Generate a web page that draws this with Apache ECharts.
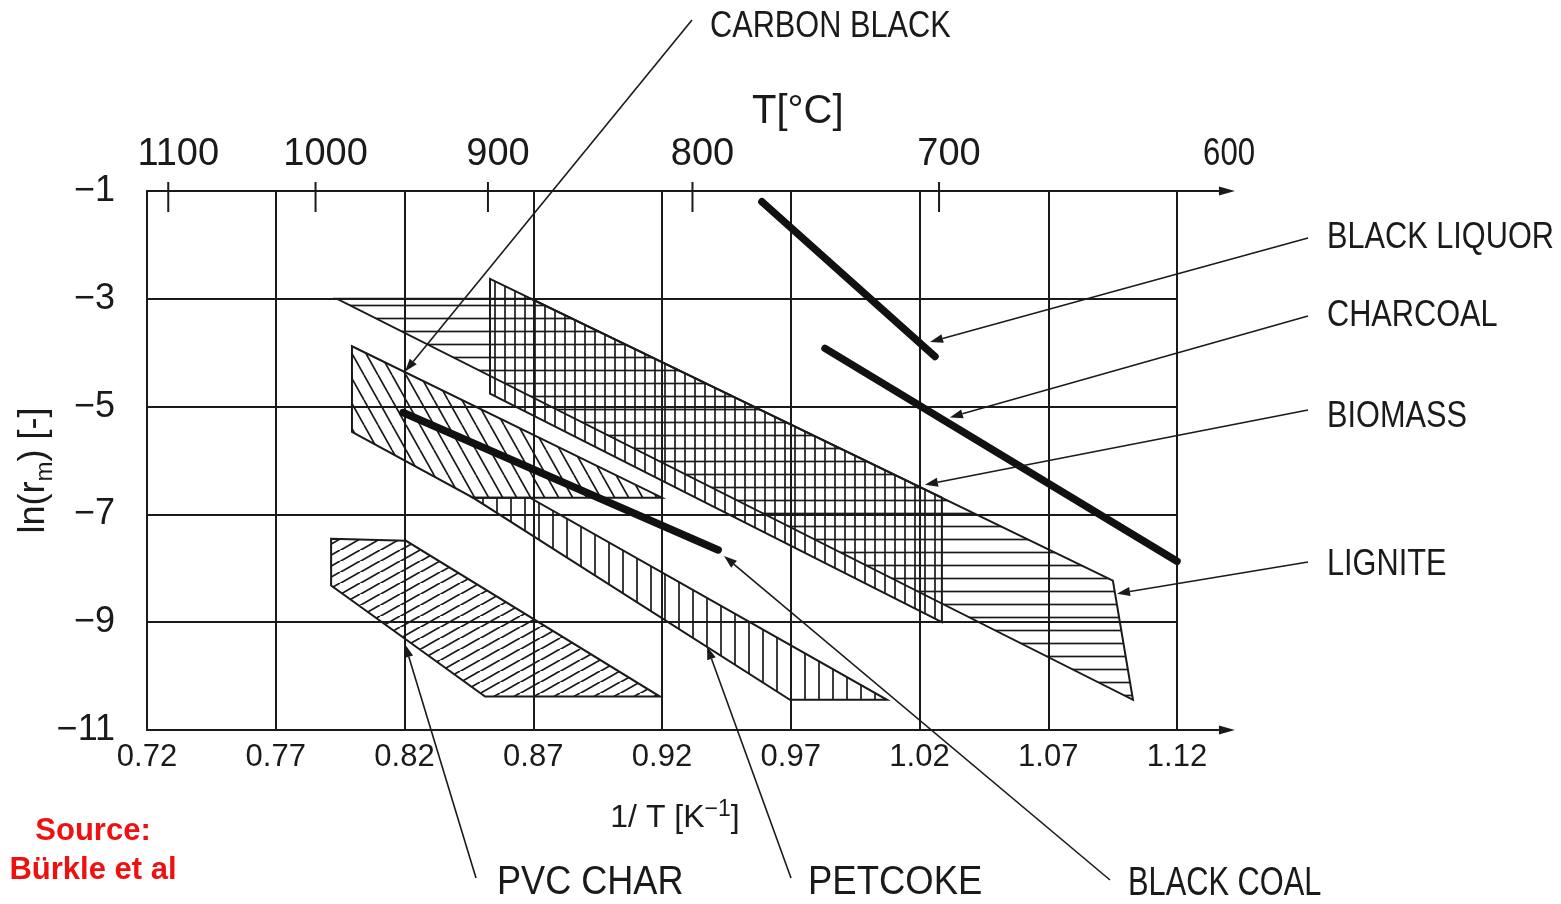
<!DOCTYPE html>
<html>
<head>
<meta charset="utf-8">
<title>Gasification reactivity ln(rm) vs 1/T</title>
<script src="https://cdn.jsdelivr.net/npm/echarts@6/dist/echarts.min.js"></script>
<style>
  html, body { margin: 0; padding: 0; background: #ffffff; }
  #chart { width: 1561px; height: 904px; }
</style>
</head>
<body>
<div id="chart"></div>
<script>
// ---------- data (x = 1000/T in K^-1, y = ln(rm)) ----------
const TEMP_TICKS = [1100, 1000, 900, 800, 700, 600];           // top axis, °C

const blackLiquor = [[0.9588, -1.20], [1.0260, -4.07]];
const charcoal    = [[0.9833, -3.92], [1.1200, -7.87]];
const blackCoal   = [[0.8194, -5.11], [0.9418, -7.66]];

const lignite     = [[0.7938, -3.00], [0.8692, -3.00], [1.0951, -8.23], [1.1029, -10.44]];
const biomass     = [[0.8532, -2.63], [1.0287, -6.69], [1.0287, -9.00], [0.8532, -4.76]];
const carbonBlack = [[0.7996, -3.88], [0.9200, -6.69], [0.8466, -6.69], [0.7996, -5.47]];
const petcoke     = [[0.8466, -6.69], [0.8687, -6.69], [1.0074, -10.44], [0.9697, -10.44]];
const pvcChar     = [[0.7915, -7.45], [0.8206, -7.49], [0.9192, -10.38], [0.8513, -10.38], [0.7915, -8.32]];

const LABELS        = ['CARBON BLACK', 'BLACK LIQUOR', 'CHARCOAL', 'BIOMASS', 'LIGNITE', 'PVC CHAR', 'PETCOKE', 'BLACK COAL'];
const LABEL_TARGETS = [[0.8202, -4.35], [1.0241, -3.80], [1.0318, -5.20], [1.0221, -6.45],
                       [1.0967, -8.47], [0.8202, -9.41], [0.9375, -9.45], [0.9441, -7.77]];

// ---------- layout & style ----------
const INK = '#1a1a1a';
const FONT = '"Liberation Sans", Arial, Helvetica, sans-serif';
const AXIS_ARROW_END = 1.1425;            // where the x-axis arrows stop
const GRID = { left: 147, top: 191, width: 1030, height: 539 };

// leader tail (px), text anchor (px, left / middle), font size and horizontal squeeze
const LABEL_LAYOUT = [
  { tail: [692, 20],   text: [710, 27],   size: 37, sx: 0.83 },
  { tail: [1308, 238], text: [1327, 238], size: 37, sx: 0.83 },
  { tail: [1308, 316], text: [1327, 316], size: 37, sx: 0.83 },
  { tail: [1308, 410], text: [1327, 417], size: 37, sx: 0.83 },
  { tail: [1308, 562], text: [1327, 565], size: 37, sx: 0.83 },
  { tail: [476, 878],  text: [497, 883],  size: 41, sx: 0.88 },
  { tail: [791, 878],  text: [808, 883],  size: 41, sx: 0.89 },
  { tail: [1110, 880], text: [1128, 884], size: 40, sx: 0.77 }
];

// ---------- hatch patterns ----------
function hatch(kind, w, h) {
  const c = document.createElement('canvas');
  c.width = w; c.height = h;
  const g = c.getContext('2d');
  g.strokeStyle = INK;
  g.lineWidth = 1.7;
  g.beginPath();
  if (kind === 'h') { g.moveTo(0, h / 2); g.lineTo(w, h / 2); }
  if (kind === 'v') { g.moveTo(w / 2, 0); g.lineTo(w / 2, h); }
  if (kind === 'back') {            // "\" lines
    for (let k = -1; k <= 1; k++) { g.moveTo(k * w, 0); g.lineTo(k * w + w, h); }
  }
  if (kind === 'fwd') {             // "/" lines
    for (let k = -1; k <= 1; k++) { g.moveTo(k * w, h); g.lineTo(k * w + w, 0); }
  }
  g.stroke();
  return { image: c, repeat: 'repeat' };
}

const PAT = {
  lignite: hatch('h', 8, 13),
  biomass: hatch('v', 10, 8),
  carbonBlack: hatch('back', 14, 25),
  petcoke: hatch('v', 14, 8),
  pvcChar: hatch('fwd', 20, 11.5)
};

function regionSeries(name, pts, pattern) {
  return {
    type: 'custom', name: name, coordinateSystem: 'cartesian2d',
    data: pts, encode: { x: 0, y: 1 }, clip: false, silent: true, z: 3,
    renderItem: function (params, api) {
      if (params.dataIndex !== 0) return null;
      const points = pts.map(function (p) { return api.coord(p); });
      return {
        type: 'polygon',
        shape: { points: points },
        style: { fill: pattern, stroke: INK, lineWidth: 2 }
      };
    }
  };
}

function thickLine(name, pts) {
  return {
    type: 'line', name: name, data: pts, symbol: 'none', silent: true, z: 5,
    lineStyle: { color: '#111', width: 7.5, cap: 'round' }
  };
}

function arrowHead(tip, from, len, half) {
  const dx = tip[0] - from[0], dy = tip[1] - from[1];
  const d = Math.sqrt(dx * dx + dy * dy) || 1;
  const ux = dx / d, uy = dy / d;
  const bx = tip[0] - ux * len, by = tip[1] - uy * len;
  return {
    base: [bx, by],
    points: [tip, [bx - uy * half, by + ux * half], [bx + uy * half, by - ux * half]]
  };
}

// squeezed text element anchored at (x, y)
function squeezedText(text, x, y, size, sx, align) {
  return {
    type: 'text', x: x, y: y, scaleX: sx, scaleY: 1,
    style: {
      text: text, x: 0, y: 0, font: size + 'px ' + FONT, fill: INK,
      align: align, verticalAlign: 'middle'
    }
  };
}

// ---------- chart ----------
const chart = echarts.init(document.getElementById('chart'), null, { renderer: 'canvas' });

const option = {
  backgroundColor: '#ffffff',
  animation: false,
  grid: GRID,
  xAxis: [
    {
      type: 'value', position: 'bottom', min: 0.72, max: 1.12, interval: 0.05,
      axisLine: { show: true, lineStyle: { color: INK, width: 2 } },
      axisTick: { show: false },
      axisLabel: {
        fontSize: 31, color: INK, fontFamily: FONT, margin: 12,
        formatter: function (v) { return v.toFixed(2); }
      },
      splitLine: { show: true, showMinLine: false, lineStyle: { color: INK, width: 2 } },
      name: '{t|1/ T [K}{s|\u22121}{t|]}',
      nameLocation: 'middle', nameGap: 68, nameMoveOverlap: false,
      nameTextStyle: {
        padding: [0, 0, 0, 26],
        rich: {
          t: { fontSize: 32, color: INK, fontFamily: FONT, lineHeight: 40 },
          s: { fontSize: 23, color: INK, fontFamily: FONT, verticalAlign: 'top' }
        }
      }
    },
    {
      type: 'value', position: 'top', min: 0.72, max: 1.12,
      axisLine: { show: true, onZero: false, lineStyle: { color: INK, width: 2 } },
      axisTick: { show: false }, axisLabel: { show: false }, splitLine: { show: false }
    }
  ],
  yAxis: {
    type: 'value', min: -11, max: -1, interval: 2,
    axisLine: { show: true, onZero: false, lineStyle: { color: INK, width: 2 } },
    axisTick: { show: false },
    axisLabel: {
      fontSize: 36, color: INK, fontFamily: FONT, margin: 32,
      formatter: function (v) { return String(v).replace('-', '\u2212'); }
    },
    splitLine: { show: true, showMinLine: false, showMaxLine: false, lineStyle: { color: INK, width: 2 } },
    name: '{t|ln(r}{s|m}{t|) [-]}',
    nameLocation: 'middle', nameRotate: 90, nameGap: 90, nameMoveOverlap: false,
    nameTextStyle: {
      padding: [0, 20, 0, 0],
      rich: {
        t: { fontSize: 36, color: INK, fontFamily: FONT, lineHeight: 46 },
        s: { fontSize: 24, color: INK, fontFamily: FONT, verticalAlign: 'bottom' }
      }
    }
  },
  graphic: [
    {
      type: 'text', left: 752, top: 92,
      style: { text: 'T[°C]', font: '40px ' + FONT, fill: INK }
    },
    {
      type: 'text', x: 93, y: 812,
      style: {
        text: 'Source:\nBürkle et al', font: 'bold 31px ' + FONT, fill: '#ee1111',
        align: 'center', lineHeight: 39
      }
    }
  ],
  series: [
    regionSeries('Lignite', lignite, PAT.lignite),
    regionSeries('Biomass', biomass, PAT.biomass),
    regionSeries('Carbon black', carbonBlack, PAT.carbonBlack),
    regionSeries('Petcoke', petcoke, PAT.petcoke),
    regionSeries('PVC char', pvcChar, PAT.pvcChar),
    thickLine('Black liquor', blackLiquor),
    thickLine('Charcoal', charcoal),
    thickLine('Black coal', blackCoal),

    // arrow ends of both x axes
    {
      type: 'custom', name: 'axis arrows', coordinateSystem: 'cartesian2d',
      data: [[AXIS_ARROW_END, -11], [AXIS_ARROW_END, -1]], encode: { x: 0, y: 1 },
      clip: false, silent: true, z: 4,
      renderItem: function (params, api) {
        const tip = api.coord([api.value(0), api.value(1)]);
        const start = api.coord([1.12, api.value(1)]);
        const ah = arrowHead(tip, start, 16, 4.5);
        return {
          type: 'group', children: [
            { type: 'line', shape: { x1: start[0], y1: start[1], x2: ah.base[0], y2: ah.base[1] },
              style: { stroke: INK, lineWidth: 2 } },
            { type: 'polygon', shape: { points: ah.points }, style: { fill: INK } }
          ]
        };
      }
    },

    // temperature scale on the top axis
    {
      type: 'custom', name: 'T ticks', coordinateSystem: 'cartesian2d',
      data: TEMP_TICKS.map(function (T) { return [1000 / (T + 273.15), -1, T]; }),
      encode: { x: 0, y: 1 }, clip: false, silent: true, z: 4,
      renderItem: function (params, api) {
        const T = api.value(2);
        const p = api.coord([api.value(0), api.value(1)]);
        const inside = api.value(0) <= 1.12;
        const children = [];
        if (inside) {
          children.push({ type: 'line', shape: { x1: p[0], y1: p[1] - 9, x2: p[0], y2: p[1] + 21 },
                          style: { stroke: INK, lineWidth: 2 } });
        }
        children.push(squeezedText(String(T), p[0] + (inside ? 10 : -13), p[1] - 36,
                                   38, inside ? 1 : 0.82, 'center'));
        return { type: 'group', children: children };
      }
    },

    // annotations with leader arrows
    {
      type: 'custom', name: 'annotations', coordinateSystem: 'cartesian2d',
      data: LABEL_TARGETS.map(function (p, i) { return [p[0], p[1], i]; }),
      encode: { x: 0, y: 1 }, clip: false, silent: true, z: 6,
      renderItem: function (params, api) {
        const i = api.value(2);
        const lay = LABEL_LAYOUT[i];
        const tip = api.coord([api.value(0), api.value(1)]);
        const ah = arrowHead(tip, lay.tail, 13, 4.5);
        return {
          type: 'group', children: [
            { type: 'line', shape: { x1: lay.tail[0], y1: lay.tail[1], x2: ah.base[0], y2: ah.base[1] },
              style: { stroke: INK, lineWidth: 1.6 } },
            { type: 'polygon', shape: { points: ah.points }, style: { fill: INK } },
            squeezedText(LABELS[i], lay.text[0], lay.text[1], lay.size, lay.sx, 'left')
          ]
        };
      }
    }
  ]
};

chart.setOption(option);
</script>
</body>
</html>
